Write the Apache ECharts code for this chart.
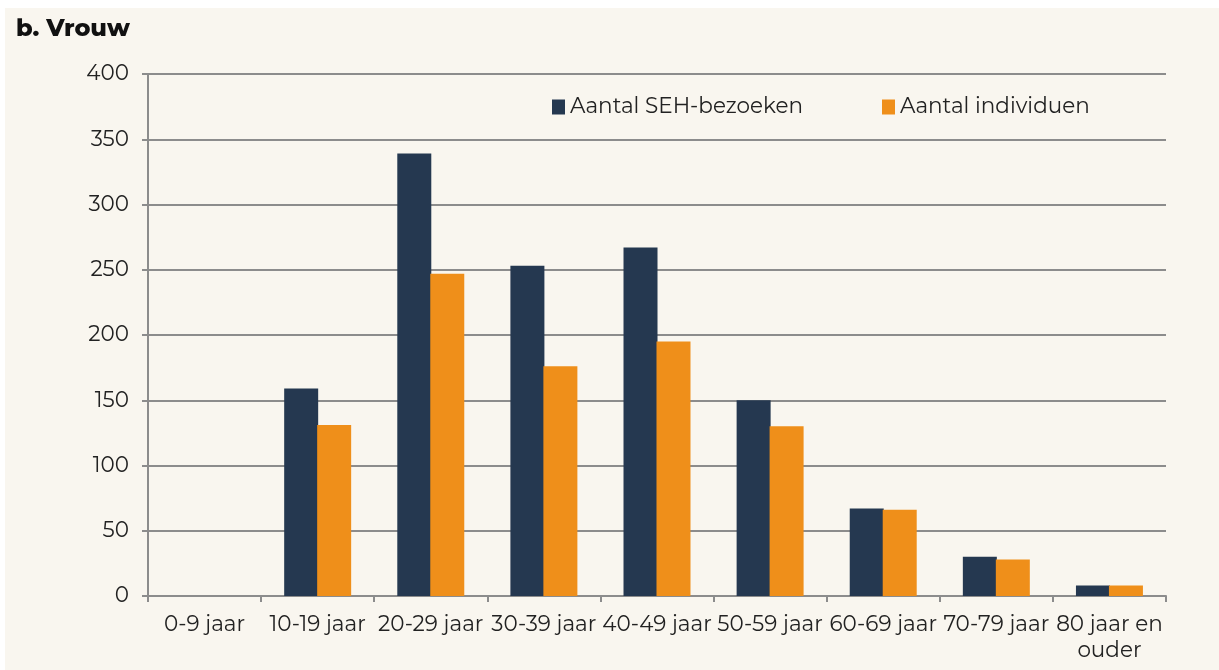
<!DOCTYPE html>
<html>
<head>
<meta charset="utf-8">
<script src="https://cdn.jsdelivr.net/npm/echarts@6/dist/echarts.min.js"></script>
<style>
  html, body { margin: 0; padding: 0; background: #ffffff; }
  #chart { position: absolute; left: 5px; top: 8px; width: 1214px; height: 662px; background: #f9f6ef; }
</style>
</head>
<body>
<div id="chart"></div>
<script>
// age groups and counts
const categories = ['0-9 jaar', '10-19 jaar', '20-29 jaar', '30-39 jaar', '40-49 jaar',
  '50-59 jaar', '60-69 jaar', '70-79 jaar', '80 jaar en\nouder'];
const bezoeken = [0, 159, 339, 253, 267, 150, 67, 30, 8];
const individuen = [0, 131, 247, 176, 195, 130, 66, 28, 8];
const yTicks = [0, 50, 100, 150, 200, 250, 300, 350, 400];

const font = "Montserrat, 'Noto Sans', sans-serif";
const gridColor = '#8c8c8c';

const myChart = echarts.init(document.getElementById('chart'));

const option = {
  backgroundColor: '#f9f6ef',
  textStyle: { fontFamily: font },
  title: {
    text: 'b. Vrouw',
    left: 6, top: 4,
    textStyle: { fontSize: 24, fontWeight: 800, color: '#111', fontFamily: font }
  },
  legend: {
    left: 547, top: 88, padding: 0,
    itemWidth: 13, itemHeight: 15, itemGap: 79,
    icon: 'rect',
    textStyle: { fontSize: 21.5, color: '#222' },
    data: ['Aantal SEH-bezoeken', 'Aantal individuen']
  },
  grid: { left: 143, top: 66, width: 1018, height: 522, containLabel: false },
  xAxis: {
    type: 'category',
    data: categories,
    axisLine: { lineStyle: { color: gridColor, width: 2 } },
    axisTick: { show: true, length: 6, lineStyle: { color: gridColor, width: 2 } },
    axisLabel: { fontSize: 21.5, color: '#222', margin: 16, lineHeight: 26, interval: 0 }
  },
  yAxis: {
    type: 'value',
    min: yTicks[0], max: yTicks[yTicks.length - 1], interval: 50,
    axisLine: { show: true, lineStyle: { color: gridColor, width: 2 } },
    axisTick: { show: true, length: 6, lineStyle: { color: gridColor, width: 2 } },
    splitLine: { lineStyle: { color: gridColor, width: 2 } },
    axisLabel: { fontSize: 21.5, color: '#222', margin: 19 }
  },
  series: [
    {
      name: 'Aantal SEH-bezoeken', type: 'bar', data: bezoeken,
      barWidth: 34, barGap: '-3%',
      itemStyle: { color: '#253850' }
    },
    {
      name: 'Aantal individuen', type: 'bar', data: individuen,
      barWidth: 34,
      itemStyle: { color: '#ef8f1a' }
    }
  ]
};

option && myChart.setOption(option);
</script>
</body>
</html>
